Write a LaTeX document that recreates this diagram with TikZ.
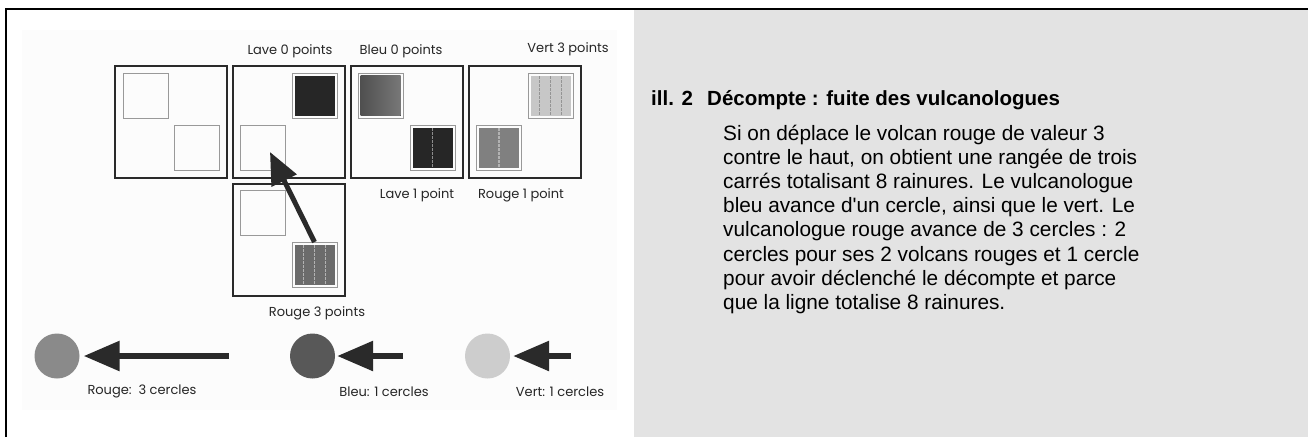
\documentclass[tikz,border=0pt]{standalone}
\usepackage{fontspec}
\setmainfont{Liberation Sans}[Ligatures=TeXOff]
\newfontfamily\futura{Poppins}
\usetikzlibrary{arrows.meta,calc}

\definecolor{fondgris}{HTML}{E3E3E3}
\definecolor{encre}{HTML}{2A2A2A}
\definecolor{lave}{HTML}{262626}
\definecolor{pionrouge}{HTML}{8A8A8A}
\definecolor{pionbleu}{HTML}{585858}
\definecolor{pionvert}{HTML}{CDCDCD}

\begin{document}
\begin{tikzpicture}[x=1pt,y=-1pt,
	plateau/.style={draw=encre, line width=2.5pt, minimum size=112pt, inner sep=0pt},
	carre/.style={draw=black!40, line width=0.9pt, minimum size=45pt, inner sep=0pt},
	volcan/.style={carre, path picture={\fill[#1] ($(path picture bounding box.south west)+(2.5pt,2.5pt)$) rectangle ($(path picture bounding box.north east)+(-2.5pt,-2.5pt)$);}},
	rainure/.style={draw=#1, line width=1.2pt, dash pattern=on 3pt off 1pt},
	etiquette/.style={font=\futura\fontsize{13}{15}\selectfont, text=black!85, inner sep=0pt, anchor=base},
	pion/.style={circle, minimum size=45pt, inner sep=0pt},
	fleche/.style={encre, line width=6pt, -{Triangle[length=36pt,width=29pt]}},
	texte/.style={font=\fontsize{20.8}{24.2}\selectfont, inner sep=0pt, anchor=base west}
	]
	\useasboundingbox (0,0) rectangle (1308,437);
	
	% fonds
	\fill[fondgris] (634,10.25) rectangle (1308,437);
	\fill[black!1] (22,30) rectangle (617,410);
	\draw[line width=2.5pt] (6,437) -- (6,9) -- (1308,9);
	
	% plateaux
	\node[plateau] (p1) at (171,122) {};
	\node[plateau] (p2) at (289,122) {};
	\node[plateau] (p3) at (407,122) {};
	\node[plateau] (p4) at (525,122) {};
	\node[plateau] (p5) at (289,240) {};
	
	% carres vides
	\node[carre] (v1a) at (145.5,95.5) {};
	\node[carre] (v1b) at (196.5,148) {};
	\node[carre] (v2b) at (263,147.5) {};
	\node[carre] (v5a) at (263,212.5) {};
	
	% volcans
	\node[volcan=lave] (v2a) at (314.5,96) {};
	\node[volcan={left color=black!70, right color=black!52}] (v3a) at (380.5,95.5) {};
	\node[volcan=lave] (v3b) at (432.5,148) {};
	\node[volcan=black!22] (v4a) at (550.5,96) {};
	\node[volcan=black!50] (v4b) at (499,148) {};
	\node[volcan=black!58] (v5b) at (314.5,265) {};
	
	% rainures
	\draw[rainure=black!45] ($(v3b.north)+(0,-3pt)$) -- ($(v3b.south)+(0,3pt)$);
	\draw[rainure=black!30] ($(v4b.north)+(0,-3pt)$) -- ($(v4b.south)+(0,3pt)$);
	\foreach \dx in {-11,0,11}{
		\draw[rainure=black!42] ($(v4a.north)+(\dx pt,-3pt)$) -- ($(v4a.south)+(\dx pt,3pt)$);
		\draw[rainure=black!30] ($(v5b.north)+(\dx pt,-3pt)$) -- ($(v5b.south)+(\dx pt,3pt)$);
	}
	
	% deplacement du volcan rouge
	\coordinate (pointe) at (270,152);
	\draw[encre, line width=5pt, -{Triangle[length=32pt,width=27pt]}] (v5b.north) -- (pointe);
	
	\node[etiquette] (e1) at (290,54) {Lave 0 points};
	\node[etiquette] (e2) at (401,54) {Bleu 0 points};
	\node[etiquette] (e3) at (568,52) {Vert 3 points};
	\node[etiquette] (e4) at (417,198) {Lave 1 point};
	\node[etiquette] (e5) at (521,198) {Rouge 1 point};
	\node[etiquette] (e6) at (317,316) {Rouge 3 points};
	
	% vulcanologues
	\node[pion, fill=pionrouge] (pionR) at (57,356) {};
	\node[pion, fill=pionbleu] (pionB) at (312.5,356) {};
	\node[pion, fill=pionvert] (pionV) at (487.5,356) {};
	\coordinate (queueR) at (229,356);
	\coordinate (queueB) at (403,356);
	\coordinate (queueV) at (571,356);
	\draw[fleche, shorten >=4pt] (queueR) -- (pionR.east);
	\draw[fleche, shorten >=2pt] (queueB) -- (pionB.east);
	\draw[fleche, shorten >=3pt] (queueV) -- (pionV.east);
	
	\node[etiquette] (c1) at (142,394) {Rouge:\ \ 3 cercles};
	\node[etiquette] (c2) at (384,396) {Bleu: 1 cercles};
	\node[etiquette] (c3) at (560,396) {Vert: 1 cercles};
	
	% legende
	\node[texte, font=\bfseries\fontsize{20.5}{24}\selectfont] (ill) at (651,105) {ill. 2};
	\node[texte, font=\bfseries\fontsize{20.5}{24}\selectfont] (titre) at (707,105) {Décompte : fuite des vulcanologues};
	\foreach \ligne [count=\i] in {
		{Si on déplace le volcan rouge de valeur 3},
		{contre le haut, on obtient une rangée de trois},
		{carrés totalisant 8 rainures. Le vulcanologue},
		{bleu avance d'un cercle, ainsi que le vert. Le},
		{vulcanologue rouge avance de 3 cercles : 2},
		{cercles pour ses 2 volcans rouges et 1 cercle},
		{pour avoir déclenché le décompte et parce},
		{que la ligne totalise 8 rainures.}}
		\node[texte] (ligne\i) at (723,{140+24.2*(\i-1)}) {\ligne};
\end{tikzpicture}
\end{document}
